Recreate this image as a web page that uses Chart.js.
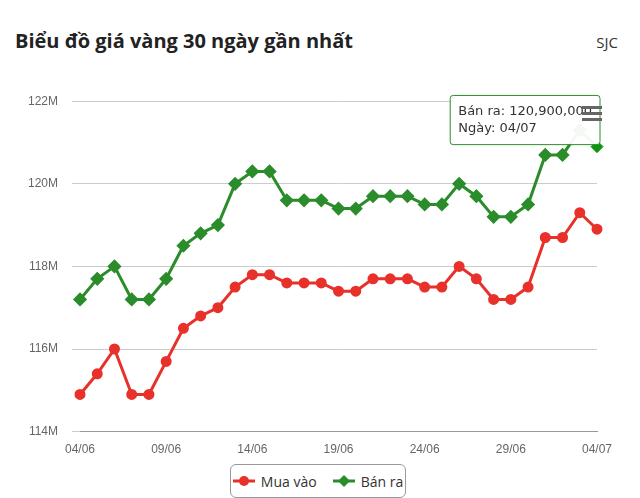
<!DOCTYPE html>
<html>
<head>
<meta charset="utf-8">
<script src="https://cdn.jsdelivr.net/npm/chart.js@4/dist/chart.umd.min.js"></script>
<style>
  body { margin: 0; background: #fff; font-family: "Open Sans", "Noto Sans", sans-serif; }
  #wrap { position: relative; width: 640px; height: 498px; overflow: hidden; }
  #title { position: absolute; left: 15px; top: 27px; font-size: 20px; font-weight: bold; color: #222; }
  #src { position: absolute; right: 22px; top: 32px; font-size: 15px; color: #333; }
  #menu { position: absolute; left: 582px; top: 106px; width: 20px; }
  #menu div { height: 3px; background: #666; margin-bottom: 3px; }
  #chartBox { position: absolute; left: 0; top: 80px; width: 640px; height: 380px; }
  #legend { position: absolute; left: 230px; top: 464px; width: 174px; height: 32px; border: 1px solid #999; border-radius: 6px; display: flex; align-items: center; justify-content: center; gap: 16px; font-size: 14px; color: #333; }
  .li { display: flex; align-items: center; gap: 6px; }
</style>
</head>
<body>
<div id="wrap">
  <div id="title">Biểu đồ giá vàng 30 ngày gần nhất</div>
  <div id="src">SJC</div>
  <div id="chartBox"><canvas id="c"></canvas></div>
  <div id="menu"><div></div><div></div><div></div></div>
  <div id="legend"></div>
</div>
<script>
const days = ['04/06','05/06','06/06','07/06','08/06','09/06','10/06','11/06','12/06','13/06',
  '14/06','15/06','16/06','17/06','18/06','19/06','20/06','21/06','22/06','23/06',
  '24/06','25/06','26/06','27/06','28/06','29/06','30/06','01/07','02/07','03/07','04/07'];
// giá tính bằng triệu đồng
const muaVao = [114.9,115.4,116.0,114.9,114.9,115.7,116.5,116.8,117.0,117.5,
  117.8,117.8,117.6,117.6,117.6,117.4,117.4,117.7,117.7,117.7,
  117.5,117.5,118.0,117.7,117.2,117.2,117.5,118.7,118.7,119.3,118.9];
const banRa = [117.2,117.7,118.0,117.2,117.2,117.7,118.5,118.8,119.0,120.0,
  120.3,120.3,119.6,119.6,119.6,119.4,119.4,119.7,119.7,119.7,
  119.5,119.5,120.0,119.7,119.2,119.2,119.5,120.7,120.7,121.3,120.9];
const yTicks = [114, 116, 118, 120, 122];

const series = [
  { label: 'Mua vào', data: muaVao, color: '#e8312a', style: 'circle' },
  { label: 'Bán ra', data: banRa, color: '#2a8c2a', style: 'rectRot' }
];

document.getElementById('legend').innerHTML = series.map(s => `
  <span class="li"><svg width="22" height="12"><line x1="0" y1="6" x2="22" y2="6" stroke="${s.color}" stroke-width="3"/>
  ${s.style === 'circle' ? `<circle cx="11" cy="6" r="5" fill="${s.color}"/>` : `<polygon points="11,0 17,6 11,12 5,6" fill="${s.color}"/>`}</svg>${s.label}</span>
`).join('');

const chart = new Chart(document.getElementById('c'), {
  type: 'line',
  data: {
    labels: days,
    datasets: series.map(s => ({
      label: s.label,
      data: s.data,
      borderColor: s.color,
      backgroundColor: s.color,
      borderWidth: 3,
      pointStyle: s.style,
      pointRadius: s.style === 'circle' ? 4 : 5,
      pointHoverRadius: 6,
      tension: 0
    }))
  },
  options: {
    responsive: true,
    maintainAspectRatio: false,
    animation: false,
    layout: { padding: { left: 14, right: 43, top: 12, bottom: 0 } },
    plugins: {
      legend: { display: false },
      tooltip: {
        mode: 'nearest',
        intersect: false,
        xAlign: 'right',
        yAlign: 'bottom',
        backgroundColor: 'rgba(255,255,255,0.95)',
        borderColor: '#2a8c2a',
        borderWidth: 1,
        titleColor: '#333',
        bodyColor: '#333',
        displayColors: false,
        caretSize: 0,
        cornerRadius: 3,
        padding: 8,
        bodyFont: { family: 'DejaVu Sans', size: 13 },
        callbacks: {
          title: () => null,
          label: ctx => [
            ctx.dataset.label + ': ' + Math.round(ctx.raw * 1e6).toLocaleString('en-US'),
            'Ngày: ' + ctx.label
          ]
        }
      }
    },
    scales: {
      x: {
        grid: { display: false },
        border: { color: '#999' },
        ticks: {
          autoSkip: false, maxRotation: 0, color: '#666', font: { size: 12 },
          callback: (v, i) => i % 5 === 0 ? days[i] : ''
        }
      },
      y: {
        min: 114, max: 122,
        afterBuildTicks: ax => { ax.ticks = yTicks.map(v => ({ value: v })); },
        grid: { color: '#ccc' },
        border: { display: false },
        ticks: { color: '#666', font: { size: 12 }, padding: 14, callback: v => v + 'M' }
      }
    }
  }
});

const last = days.length - 1;
chart.setActiveElements([{ datasetIndex: 1, index: last }]);
chart.tooltip.setActiveElements([{ datasetIndex: 1, index: last }], { x: 0, y: 0 });
chart.update();
</script>
</body>
</html>
